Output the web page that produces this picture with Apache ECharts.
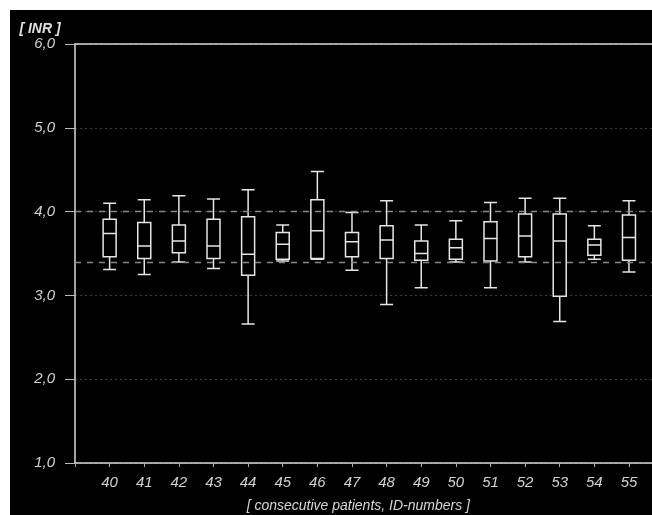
<!DOCTYPE html>
<html>
<head>
<meta charset="utf-8">
<script src="https://cdn.jsdelivr.net/npm/echarts@6/dist/echarts.min.js"></script>
<style>
html,body{margin:0;padding:0;background:#fff;}
#c{width:652px;height:515px;}
</style>
</head>
<body>
<div id="c"></div>
<script>
// Patient IDs (categories)
const patientIds = ['40','41','42','43','44','45','46','47','48','49','50','51','52','53','54','55'];
// Box statistics per patient: lower whisker, Q1, median, Q3, upper whisker
const lowWhisker = [3.31, 3.25, 3.40, 3.32, 2.66, 3.41, 3.43, 3.30, 2.89, 3.09, 3.40, 3.09, 3.40, 2.69, 3.43, 3.28];
const q1Values   = [3.46, 3.44, 3.51, 3.44, 3.24, 3.43, 3.44, 3.46, 3.44, 3.42, 3.43, 3.41, 3.46, 2.99, 3.48, 3.42];
const medians    = [3.74, 3.59, 3.65, 3.59, 3.49, 3.61, 3.77, 3.64, 3.66, 3.50, 3.57, 3.68, 3.71, 3.65, 3.60, 3.69];
const q3Values   = [3.91, 3.87, 3.84, 3.91, 3.94, 3.75, 4.14, 3.75, 3.83, 3.65, 3.67, 3.88, 3.97, 3.97, 3.67, 3.96];
const highWhisker= [4.10, 4.14, 4.19, 4.15, 4.26, 3.84, 4.48, 3.99, 4.13, 3.84, 3.89, 4.11, 4.16, 4.16, 3.83, 4.13];
// Y axis ticks and reference lines
const yTicks = [1.0, 2.0, 3.0, 4.0, 5.0, 6.0];
const refLines = [4.0, 3.4];

// padded categories so that the axis starts one step before the first patient
const categories = [''].concat(patientIds, ['']);
const boxData = ['-'].concat(patientIds.map((_, i) => [lowWhisker[i], q1Values[i], medians[i], q3Values[i], highWhisker[i]]), ['-']);

const chart = echarts.init(document.getElementById('c'));
const lblFont = {fontFamily: 'Liberation Sans', fontStyle: 'italic', fontSize: 15, color: '#d2d2d2'};
chart.setOption({
  backgroundColor: '#fff',
  animation: false,
  graphic: [{type: 'rect', z: -10, shape: {x: 10, y: 10, width: 660, height: 520}, style: {fill: '#000'}}],
  grid: {left: 75, top: 44, right: -11.6, bottom: 52, outerBoundsMode: 'none', containLabel: false},
  xAxis: [{
    type: 'category', data: categories, boundaryGap: false,
    axisLine: {lineStyle: {color: '#d8d8d8', width: 1.5}},
    axisTick: {show: true, length: 4, lineStyle: {color: '#aaa'}, interval: 0},
    axisLabel: Object.assign({margin: 12, interval: 0}, lblFont),
    splitLine: {show: false},
    name: '[ consecutive patients, ID-numbers ]', nameLocation: 'middle', nameGap: 36,
    nameTextStyle: {fontFamily: 'Liberation Sans', fontStyle: 'italic', fontSize: 14, color: '#d8d8d8', padding: [0, 0, 0, -22]}
  }, {
    type: 'category', data: categories, boundaryGap: false, position: 'top',
    axisLine: {lineStyle: {color: '#d8d8d8', width: 1.5}},
    axisTick: {show: false}, axisLabel: {show: false}
  }],
  yAxis: {
    type: 'value', min: 1, max: 6, interval: 1,
    axisLine: {show: true, lineStyle: {color: '#d8d8d8', width: 1.5}},
    axisTick: {show: true, length: 10, lineStyle: {color: '#bbb'}},
    axisLabel: Object.assign({margin: 20, formatter: v => yTicks.indexOf(v) >= 0 ? v.toFixed(1).replace('.', ',') : ''}, lblFont),
    splitLine: {show: true, lineStyle: {color: '#3c3c3c', type: [2, 3], width: 1}},
    name: '[ INR ]', nameLocation: 'end', nameGap: 8,
    nameTextStyle: {fontFamily: 'Liberation Sans', fontStyle: 'italic', fontWeight: 'bold', fontSize: 14, color: '#e0e0e0', align: 'center', padding: [0, 0, 0, -70]}
  },
  series: [{
    type: 'boxplot',
    data: boxData,
    boxWidth: [13, 13],
    itemStyle: {color: '#000', borderColor: '#e6e6e6', borderWidth: 1.5},
    markLine: {
      silent: true, symbol: 'none', label: {show: false},
      lineStyle: {color: '#8a8a8a', type: [6, 6], width: 1.3},
      data: refLines.map(v => ({yAxis: v}))
    }
  }]
});
</script>
</body>
</html>
